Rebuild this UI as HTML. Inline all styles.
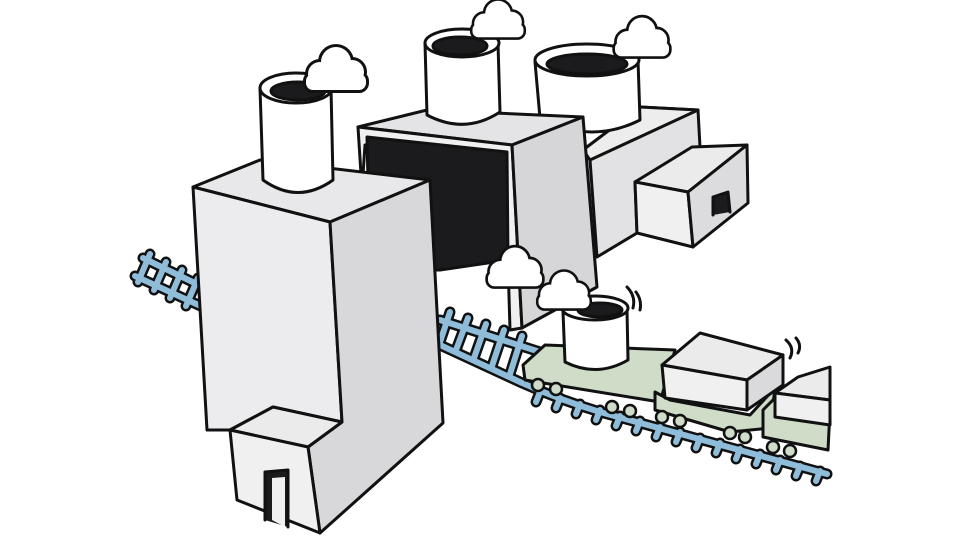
<!DOCTYPE html>
<html><head><meta charset="utf-8"><style>html,body{margin:0;padding:0;background:#fff}svg{display:block}</style></head><body>
<svg width="968" height="544" viewBox="0 0 968 544" xmlns="http://www.w3.org/2000/svg" stroke-linejoin="round" stroke-linecap="round">
<defs>
 <g id="cl">
  <circle cx="-16" cy="2" r="12"/><circle cx="0" cy="-10" r="15"/><circle cx="16" cy="0" r="12"/><rect x="-30" y="2" width="60" height="16" rx="7"/>
 </g>
</defs>
<!-- left tracks -->
<g>
 <g stroke="#111" stroke-width="11" fill="none">
  <path d="M143,258 L205,288"/><path d="M135,276 L205,308"/>
  <path d="M150,254 L138,282"/><path d="M166,262 L154,290"/><path d="M182,270 L170,298"/><path d="M198,278 L186,306"/>
 </g>
 <g stroke="#8fbcd9" stroke-width="6" fill="none">
  <path d="M143,258 L205,288"/><path d="M135,276 L205,308"/>
  <path d="M150,254 L138,282"/><path d="M166,262 L154,290"/><path d="M182,270 L170,298"/><path d="M198,278 L186,306"/>
 </g>
</g>
<!-- right tracks -->
<g>
 <g stroke="#111" stroke-width="11" fill="none">
  <path d="M440,320 L540,352"/><path d="M440,345 L520,382 Q560,400 600,412 L827,474"/>
  <path d="M450,312 L440,342"/><path d="M468,318 L456,350"/><path d="M486,324 L474,358"/><path d="M504,330 L492,366"/><path d="M522,336 L510,374"/>
  <path d="M540,392 L536,402"/><path d="M560,398 L556,408"/><path d="M580,404 L576,414"/><path d="M600,410 L596,420"/><path d="M620,416 L616,426"/><path d="M640,421 L636,431"/><path d="M660,427 L656,437"/><path d="M680,432 L676,442"/><path d="M700,438 L696,448"/><path d="M720,443 L716,453"/><path d="M740,449 L736,459"/><path d="M760,454 L756,464"/><path d="M780,460 L776,470"/><path d="M800,466 L796,476"/><path d="M820,471 L816,481"/>
 </g>
 <g stroke="#8fbcd9" stroke-width="6" fill="none">
  <path d="M440,320 L540,352"/><path d="M440,345 L520,382 Q560,400 600,412 L827,474"/>
  <path d="M450,312 L440,342"/><path d="M468,318 L456,350"/><path d="M486,324 L474,358"/><path d="M504,330 L492,366"/><path d="M522,336 L510,374"/>
  <path d="M540,392 L536,402"/><path d="M560,398 L556,408"/><path d="M580,404 L576,414"/><path d="M600,410 L596,420"/><path d="M620,416 L616,426"/><path d="M640,421 L636,431"/><path d="M660,427 L656,437"/><path d="M680,432 L676,442"/><path d="M700,438 L696,448"/><path d="M720,443 L716,453"/><path d="M740,449 L736,459"/><path d="M760,454 L756,464"/><path d="M780,460 L776,470"/><path d="M800,466 L796,476"/><path d="M820,471 L816,481"/>
 </g>
</g>

<g stroke="#111" stroke-width="3">
<!-- right building -->
<polygon points="583,150 640,107 698,110 700,147 635,182 637,233 597,257 590,160" fill="#e2e2e4"/>
<polygon points="583,150 640,107 698,110 590,160" fill="#ededee"/>
<polygon points="635,182 692,147 747,145 688,192" fill="#ebebec"/>
<polygon points="635,182 688,192 693,247 637,233" fill="#f0f0f0"/>
<polygon points="688,192 747,145 748,203 693,247" fill="#dcdcde"/>
<path d="M713,215 L713,197 L728,192 L730,212" fill="#1b1b1d"/>
<!-- chimney 3 -->
<path d="M535,62 L540,118 Q590,145 640,120 L638,60 Z" fill="#fff"/>
<ellipse cx="587" cy="60" rx="52" ry="16" fill="#fff"/>
<ellipse cx="587" cy="64" rx="40" ry="10" fill="#1b1b1d"/>
<!-- middle building -->
<polygon points="358,127 427,110 583,117 512,145" fill="#e4e4e6"/>
<polygon points="358,127 512,145 522,328 510,330 505,160 365,145 362,190" fill="#f0f0f0"/>
<polygon points="367,137 507,152 508,260 440,270 370,270" fill="#1b1b1d"/>
<polygon points="512,145 583,117 597,287 522,328" fill="#d6d6d9"/>
<!-- chimney 2 -->
<path d="M425,43 L427,115 Q465,135 500,112 L498,43 Z" fill="#fff"/>
<ellipse cx="462" cy="43" rx="37" ry="14" fill="#fff"/>
<ellipse cx="460" cy="46" rx="27" ry="9" fill="#1b1b1d"/>
<!-- left building -->
<polygon points="193,187 260,160 430,180 330,222" fill="#e8e8ea"/>
<polygon points="193,187 330,222 342,422 273,407 230,430 207,430" fill="#ececee"/>
<polygon points="330,222 430,180 443,423 320,533 308,447 342,422" fill="#d8d8db"/>
<polygon points="230,430 273,407 342,422 308,447" fill="#ebebec"/>
<polygon points="230,430 308,447 320,533 237,500" fill="#f0f0f0"/>
<path d="M265,520 L265,472 L288,470 L288,527" fill="#1b1b1d"/>
<path d="M272,520 L272,478 L285,477 L285,527" fill="#f0f0f0" stroke="none"/>
<!-- chimney 1 -->
<path d="M260,88 L263,180 Q298,205 333,180 L331,88 Z" fill="#fff"/>
<ellipse cx="296" cy="88" rx="36" ry="15" fill="#fff"/>
<ellipse cx="298" cy="91" rx="27" ry="9" fill="#1b1b1d"/>
<!-- train car 1 -->
<polygon points="523,365 545,345 675,350 660,402 525,380" fill="#cfdcc8"/>
<path d="M563,312 L565,362 Q597,378 628,360 L627,310 Z" fill="#fff"/>
<ellipse cx="595" cy="308" rx="33" ry="12" fill="#fff"/>
<ellipse cx="600" cy="310" rx="22" ry="7" fill="#1b1b1d"/>
<!-- car 2 -->
<polygon points="655,392 670,400 750,415 775,388 770,428 730,432 655,410" fill="#cfdcc8"/>
<polygon points="662,365 700,333 783,355 747,380" fill="#ebebec"/>
<polygon points="662,365 747,380 747,410 665,398" fill="#f0f0f0"/>
<polygon points="747,380 783,355 783,385 747,410" fill="#dadadc"/>
<!-- car 3 -->
<polygon points="763,410 775,398 830,410 828,450 763,437" fill="#cfdcc8"/>
<polygon points="775,393 798,377 830,367 830,400" fill="#ebebec"/>
<polygon points="775,393 830,400 830,425 775,417" fill="#f0f0f0"/>
<!-- wheels -->
<g fill="#cfdcc8" stroke-width="2.5">
<circle cx="538" cy="385" r="6"/><circle cx="556" cy="389" r="6"/>
<circle cx="612" cy="407" r="6"/><circle cx="630" cy="411" r="6"/>
<circle cx="662" cy="417" r="6"/><circle cx="680" cy="421" r="6"/>
<circle cx="730" cy="433" r="6"/><circle cx="745" cy="437" r="6"/>
<circle cx="773" cy="447" r="6"/><circle cx="790" cy="451" r="6"/>
</g>
</g>
<!-- vibration marks -->
<g stroke="#111" stroke-width="3" fill="none">
<path d="M627,287 Q636,296 633,308"/><path d="M636,292 Q642,300 640,310"/>
<path d="M786,340 Q795,348 790,358"/><path d="M796,338 Q802,345 798,353"/>
</g>
<!-- clouds -->
<g fill="#111" stroke="#111" stroke-width="6">
 <use href="#cl" transform="translate(336,72)"/>
 <use href="#cl" transform="translate(498,22) scale(0.85)"/>
 <use href="#cl" transform="translate(642,40) scale(0.9)"/>
 <use href="#cl" transform="translate(515,270) scale(0.9)"/>
 <use href="#cl" transform="translate(564,293) scale(0.85)"/>
</g>
<g fill="#fff" stroke="none">
 <use href="#cl" transform="translate(336,72)"/>
 <use href="#cl" transform="translate(498,22) scale(0.85)"/>
 <use href="#cl" transform="translate(642,40) scale(0.9)"/>
 <use href="#cl" transform="translate(515,270) scale(0.9)"/>
 <use href="#cl" transform="translate(564,293) scale(0.85)"/>
</g>
</svg>
</body></html>
